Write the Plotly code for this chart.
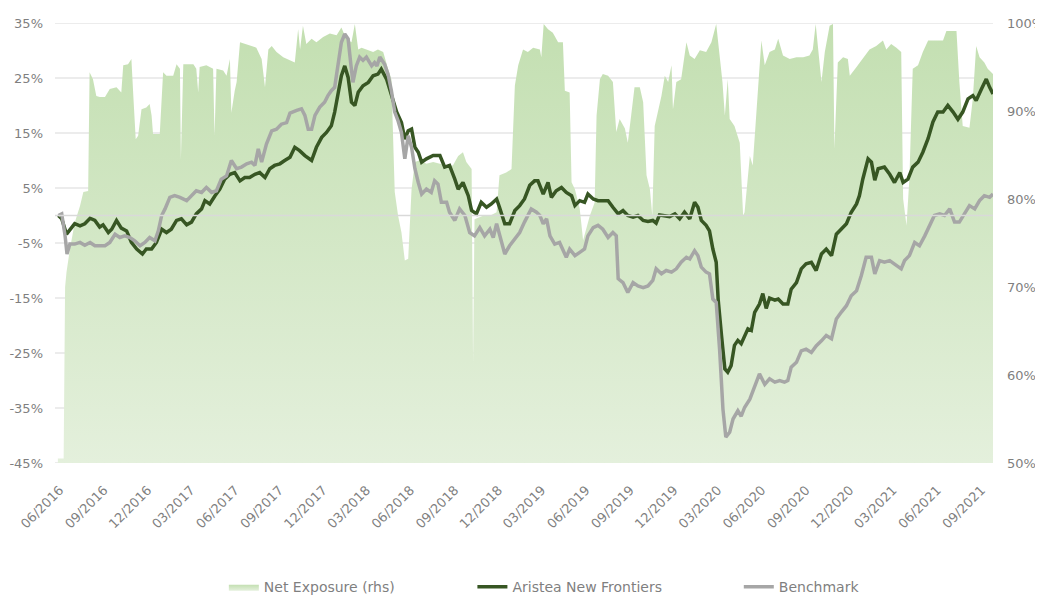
import pandas as pd
import plotly.graph_objects as go

# ---- data (day offsets from 2016-05-28, values in %) ----
start_date = "2016-05-28"

exp_day = [0, 12, 15, 18, 25, 35, 46, 53, 63, 66, 73, 80, 87, 98, 108, 122, 132, 136, 146, 153, 157, 162, 167,
           174, 184, 191, 195, 198, 212, 219, 226, 240, 247, 254, 256, 261, 282, 288, 292, 295, 309, 323, 326,
           330, 344, 351, 358, 361, 368, 372, 379, 393, 403, 413, 424, 431, 438, 445, 455, 469, 483, 493, 500,
           504, 510, 517, 528, 538, 552, 566, 580, 590, 600, 611, 618, 625, 632, 642, 656, 666, 677, 687, 694,
           701, 708, 715, 722, 729, 736, 743, 753, 767, 781, 795, 809, 822, 833, 843, 850, 861, 864, 867, 885,
           899, 913, 919, 933, 944, 951, 958, 968, 978, 989, 1003, 1006, 1011, 1020, 1030, 1041, 1051, 1055,
           1065, 1069, 1076, 1086, 1093, 1100, 1107, 1117, 1121, 1128, 1134, 1145, 1155, 1162, 1169, 1180, 1186,
           1193, 1200, 1211, 1218, 1225, 1232, 1237, 1242, 1249, 1256, 1263, 1270, 1277, 1280, 1287, 1297, 1308,
           1315, 1325, 1336, 1349, 1360, 1370, 1377, 1383, 1388, 1394, 1398, 1408, 1419, 1426, 1429, 1436, 1440,
           1446, 1457, 1464, 1471, 1481, 1492, 1499, 1509, 1523, 1537, 1551, 1564, 1571, 1577, 1582, 1589, 1596,
           1606, 1613, 1616, 1623, 1634, 1644, 1648, 1662, 1675, 1689, 1703, 1717, 1724, 1734, 1745, 1755, 1759,
           1766, 1772, 1779, 1790, 1800, 1811, 1828, 1842, 1849, 1870, 1876, 1883, 1897, 1904, 1911, 1918, 1928,
           1935, 1946]
exp_val = [50.5, 50.5, 70.0, 71.7, 74.3, 77.3, 79.2, 80.8, 80.9, 94.4, 93.6, 91.7, 91.6, 91.6, 92.5, 92.7, 92.1,
           95.2, 95.3, 95.9, 91.7, 86.8, 87.2, 90.2, 90.4, 90.8, 89.5, 87.4, 87.4, 94.4, 94.0, 94.0, 95.3, 94.8,
           84.5, 95.3, 95.3, 94.8, 92.1, 95.0, 95.2, 94.8, 87.2, 94.8, 94.6, 94.0, 95.9, 89.8, 92.3, 93.3, 97.8,
           97.6, 97.4, 97.2, 95.9, 92.7, 97.0, 97.4, 96.7, 96.1, 95.7, 95.5, 99.3, 97.0, 99.7, 97.6, 98.2, 97.8,
           98.4, 98.8, 98.6, 99.5, 98.2, 97.8, 99.9, 97.0, 97.2, 97.0, 96.7, 97.0, 96.7, 94.8, 93.6, 80.8, 78.1,
           76.2, 73.0, 73.2, 81.1, 84.2, 84.4, 84.0, 84.2, 84.0, 83.8, 83.8, 84.9, 85.3, 84.2, 83.4, 61.6, 77.7,
           78.1, 78.1, 78.5, 82.7, 83.0, 83.4, 92.9, 95.2, 97.0, 96.7, 97.2, 97.0, 96.1, 99.9, 99.3, 98.9, 97.8,
           97.8, 92.3, 92.1, 81.9, 81.1, 78.9, 75.3, 76.6, 78.1, 79.6, 89.5, 93.6, 94.2, 94.0, 93.3, 87.6, 89.1,
           88.0, 86.4, 89.5, 92.7, 92.7, 91.0, 82.7, 81.1, 78.1, 88.3, 90.0, 91.7, 94.0, 93.3, 95.2, 90.2, 93.3,
           93.6, 97.8, 96.3, 95.9, 96.9, 96.7, 97.8, 99.9, 96.3, 93.3, 89.5, 93.6, 89.1, 88.3, 86.4, 78.1, 78.5,
           83.0, 84.9, 83.8, 93.3, 98.0, 95.2, 96.7, 97.0, 98.2, 96.3, 95.9, 96.1, 96.1, 96.3, 97.0, 99.9, 97.0,
           93.3, 96.7, 99.7, 99.9, 85.7, 95.5, 96.1, 95.9, 94.0, 95.0, 95.9, 97.0, 97.4, 98.0, 97.0, 97.6, 97.2,
           96.7, 80.0, 77.0, 82.3, 94.8, 95.2, 96.7, 98.0, 98.0, 98.0, 99.1, 99.1, 93.3, 88.3, 88.1, 91.4, 97.4,
           96.1, 95.5, 94.8, 94.2]

fund_day = [1, 8, 18, 25, 35, 46, 56, 67, 77, 87, 94, 105, 112, 122, 132, 143, 153, 164, 176, 184, 195, 205, 216,
            226, 236, 247, 257, 268, 278, 288, 299, 306, 316, 327, 337, 347, 358, 368, 379, 389, 399, 410, 420,
            431, 441, 451, 462, 472, 483, 493, 503, 514, 528, 538, 549, 559, 569, 576, 583, 590, 597, 604, 611,
            618, 625, 635, 646, 656, 666, 673, 684, 694, 705, 715, 722, 729, 736, 743, 750, 757, 767, 781, 795,
            805, 815, 826, 833, 843, 854, 861, 871, 881, 892, 902, 913, 919, 930, 940, 951, 961, 971, 982, 992,
            999, 1010, 1020, 1027, 1037, 1048, 1058, 1069, 1076, 1086, 1096, 1103, 1114, 1124, 1134, 1145, 1155,
            1166, 1176, 1186, 1197, 1207, 1218, 1228, 1238, 1245, 1252, 1263, 1273, 1284, 1294, 1304, 1315, 1325,
            1332, 1339, 1349, 1356, 1363, 1370, 1374, 1381, 1388, 1394, 1401, 1408, 1415, 1422, 1429, 1436, 1443,
            1450, 1460, 1467, 1474, 1481, 1492, 1499, 1509, 1519, 1526, 1537, 1547, 1557, 1568, 1578, 1589, 1599,
            1610, 1620, 1630, 1641, 1651, 1662, 1668, 1675, 1686, 1693, 1700, 1707, 1720, 1731, 1741, 1752, 1759,
            1769, 1779, 1790, 1800, 1811, 1821, 1831, 1842, 1852, 1863, 1873, 1883, 1894, 1904, 1911, 1922, 1932,
            1939, 1946]
fund_ret = [0.0, -0.6, -3.4, -2.5, -1.5, -1.9, -1.5, -0.5, -0.9, -2.1, -1.7, -3.1, -2.5, -0.9, -2.3, -2.8, -4.9,
            -6.1, -7.0, -6.1, -6.1, -4.9, -2.5, -3.1, -2.5, -0.9, -0.6, -1.7, -1.2, 0.3, 1.2, 2.7, 2.1, 3.6, 4.8,
            6.6, 7.5, 7.8, 6.3, 6.9, 6.9, 7.5, 7.8, 6.9, 8.5, 9.1, 9.4, 10.0, 10.6, 12.4, 11.8, 10.9, 10.0, 12.4,
            14.2, 15.1, 16.3, 18.8, 22.4, 25.4, 27.2, 25.1, 20.6, 20.0, 22.4, 23.6, 24.2, 25.4, 25.7, 26.6, 24.8,
            21.8, 18.8, 16.9, 13.9, 15.4, 15.7, 12.4, 11.5, 9.7, 10.3, 10.9, 10.9, 8.8, 9.1, 6.6, 4.8, 6.0, 3.6,
            0.9, 0.3, 2.4, 1.5, 2.1, 3.0, 1.5, -1.5, -1.5, 0.9, 1.8, 3.0, 5.5, 6.3, 6.3, 3.9, 6.0, 3.3, 4.5, 5.1,
            4.2, 3.6, 1.8, 2.7, 2.4, 3.9, 3.0, 2.7, 2.7, 2.7, 1.5, 0.3, 0.9, 0.0, -0.3, 0.0, -0.9, -1.1, -0.9,
            -1.4, 0.1, 0.0, -0.2, 0.3, -0.6, 0.6, -0.6, 2.4, 1.5, -0.9, -1.8, -2.8, -6.1, -8.5, -15.2, -21.8,
            -27.9, -28.5, -27.3, -23.6, -22.7, -23.3, -21.8, -20.6, -20.9, -17.6, -16.1, -14.2, -16.9, -15.0,
            -15.4, -15.2, -16.1, -16.1, -13.4, -12.2, -9.7, -8.8, -8.5, -10.0, -7.0, -6.1, -7.3, -3.4, -2.5, -1.5,
            0.6, 2.1, 3.6, 6.6, 10.3, 9.7, 6.4, 8.5, 8.8, 7.5, 6.0, 7.8, 6.0, 6.6, 8.8, 9.7, 11.5, 14.0, 17.0,
            18.8, 18.8, 20.0, 18.8, 17.5, 18.8, 21.2, 21.8, 20.9, 23.0, 24.8, 23.3, 22.1]

bench_day = [1, 8, 15, 19, 25, 35, 46, 56, 67, 77, 87, 98, 108, 119, 129, 139, 150, 160, 171, 181, 191, 202, 209,
             216, 223, 233, 243, 254, 268, 278, 288, 299, 309, 320, 330, 340, 351, 361, 372, 382, 393, 403, 410,
             417, 424, 434, 445, 455, 465, 476, 483, 497, 507, 514, 521, 528, 535, 545, 555, 562, 569, 576, 583,
             590, 597, 604, 610, 614, 621, 628, 635, 642, 653, 659, 664, 670, 680, 687, 694, 701, 708, 715, 722,
             729, 736, 743, 750, 757, 767, 777, 784, 791, 798, 809, 815, 826, 836, 847, 857, 867, 878, 888, 899,
             906, 913, 919, 930, 940, 951, 961, 971, 978, 985, 996, 1003, 1010, 1017, 1024, 1034, 1044, 1051,
             1058, 1065, 1076, 1086, 1096, 1103, 1114, 1124, 1134, 1145, 1155, 1162, 1166, 1176, 1186, 1197, 1207,
             1218, 1228, 1238, 1245, 1256, 1266, 1277, 1287, 1297, 1308, 1315, 1325, 1332, 1339, 1349, 1356, 1363,
             1370, 1377, 1384, 1390, 1398, 1405, 1415, 1422, 1429, 1440, 1450, 1460, 1471, 1481, 1492, 1502, 1512,
             1519, 1526, 1537, 1547, 1557, 1568, 1578, 1589, 1599, 1610, 1620, 1630, 1641, 1651, 1662, 1672, 1682,
             1693, 1700, 1710, 1720, 1731, 1741, 1755, 1762, 1772, 1783, 1793, 1804, 1814, 1824, 1835, 1845, 1856,
             1866, 1876, 1887, 1897, 1908, 1918, 1928, 1939, 1946]
bench_ret = [0.0, 0.3, -3.7, -7.0, -5.2, -5.2, -4.9, -5.4, -4.9, -5.5, -5.5, -5.5, -4.9, -3.4, -4.0, -3.7, -4.0,
             -4.6, -5.5, -4.9, -4.0, -4.6, -2.8, 0.0, 1.2, 3.3, 3.6, 3.3, 2.7, 3.6, 4.5, 4.2, 5.1, 4.2, 4.5, 6.6,
             7.2, 10.0, 8.5, 8.8, 9.4, 9.7, 9.1, 12.1, 9.7, 13.0, 15.4, 15.7, 16.6, 16.9, 18.6, 19.1, 19.4, 18.2,
             15.7, 15.7, 18.2, 19.7, 20.6, 21.8, 22.7, 23.3, 27.2, 31.5, 33.0, 32.1, 27.2, 24.2, 27.2, 28.8, 28.2,
             28.8, 27.2, 27.8, 27.2, 28.8, 27.5, 25.7, 22.7, 18.8, 17.2, 15.1, 10.3, 14.5, 12.4, 8.5, 6.0, 3.9,
             4.8, 4.2, 6.3, 5.7, 2.4, 2.4, 0.6, -0.9, 1.2, 0.0, -3.1, -3.7, -2.2, -3.7, -2.5, -4.0, -1.5, -3.4,
             -7.0, -5.5, -4.3, -3.1, -1.2, 0.0, 1.2, 0.6, 0.0, -1.5, -0.6, -3.7, -5.2, -4.9, -6.1, -7.6, -6.1,
             -7.3, -6.7, -6.1, -3.7, -2.2, -1.8, -2.5, -4.0, -3.1, -3.7, -11.5, -12.2, -14.0, -12.2, -12.8, -13.1,
             -12.8, -11.8, -9.7, -10.6, -10.0, -10.3, -9.7, -8.5, -7.6, -7.9, -6.4, -7.3, -9.4, -10.3, -10.6,
             -15.2, -15.8, -24.3, -35.2, -40.3, -39.4, -37.0, -35.5, -36.5, -34.9, -33.4, -31.3, -28.8, -30.7,
             -29.7, -30.3, -30.0, -30.3, -30.0, -27.6, -26.7, -24.6, -24.3, -24.9, -23.7, -22.8, -21.8, -22.4,
             -18.8, -17.6, -16.4, -14.6, -13.7, -10.9, -7.6, -7.6, -10.6, -8.2, -8.5, -8.2, -8.8, -9.7, -8.2,
             -7.3, -4.9, -5.5, -3.7, -1.8, 0.0, 0.3, 0.0, 1.2, -1.2, -1.2, 0.3, 1.8, 1.2, 2.7, 3.6, 3.3, 3.9]

left_ticks = [-45, -35, -25, -15, -5, 5, 15, 25, 35]
right_ticks = [50, 60, 70, 80, 90, 100]
series_names = ["Net Exposure (rhs)", "Aristea New Frontiers", "Benchmark"]

base = pd.Timestamp(start_date)
exp_x = base + pd.to_timedelta(exp_day, unit="D")
fund_x = base + pd.to_timedelta(fund_day, unit="D")
bench_x = base + pd.to_timedelta(bench_day, unit="D")

FONT = "DejaVu Sans"
GRAY = "#7f7f7f"
GRID = "#e6e6e6"

fig = go.Figure()
fig.add_trace(go.Scatter(
    x=exp_x, y=exp_val, name=series_names[0], mode="lines",
    line=dict(width=0, color="#c5e0b4"), fill="tozeroy",
    fillgradient=dict(type="vertical", colorscale=[[0, "#e4f0dc"], [1, "#c3dfb1"]], start=50, stop=100),
    yaxis="y", legend="legend", hoverinfo="skip"))
fig.add_trace(go.Scatter(
    x=fund_x, y=fund_ret, name=series_names[1], mode="lines",
    line=dict(width=3.5, color="#375623"), yaxis="y2", legend="legend2"))
fig.add_trace(go.Scatter(
    x=bench_x, y=bench_ret, name=series_names[2], mode="lines",
    line=dict(width=3.5, color="#a6a6a6"), yaxis="y2", legend="legend3"))

legend_common = dict(orientation="h", yanchor="middle", y=-0.282, xanchor="left",
                     font=dict(family=FONT, size=14, color=GRAY), bgcolor="rgba(0,0,0,0)",
                     itemwidth=30)

# horizontal gridlines of the left (returns) axis, kept beneath the area fill
grid_shapes = [dict(type="line", xref="paper", x0=0, x1=1, yref="y2", y0=v, y1=v,
                    line=dict(color=GRID, width=1.5), layer="between") for v in left_ticks]
zero_shape = [dict(type="line", xref="paper", x0=0, x1=1, yref="y2", y0=0, y1=0,
                   line=dict(color="#d9d9d9", width=1.5), layer="above")]

# the page body adds an 8px offset, so the figure is 8px smaller than the window
fig.update_layout(
    width=1035, height=587,
    margin=dict(l=47, r=50, t=15, b=132, autoexpand=False),
    paper_bgcolor="white", plot_bgcolor="white",
    font=dict(family=FONT, size=13, color=GRAY),
    xaxis=dict(type="date", range=["2016-05-22", "2021-09-25"], tick0="2016-06-01", dtick="M3",
               tickformat="%m/%Y", tickangle=-45, showgrid=False, zeroline=False, showline=False,
               ticks="", automargin=False, ticklabelstandoff=16,
               tickfont=dict(family=FONT, size=13, color=GRAY)),
    yaxis=dict(range=[50, 100], tickvals=right_ticks, ticktext=[f"{v}%" for v in right_ticks],
               side="right", showgrid=False, zeroline=False, showline=False, ticks="",
               automargin=False, ticklabelstandoff=13,
               tickfont=dict(family=FONT, size=13, color=GRAY)),
    yaxis2=dict(range=[-45, 35], tickvals=left_ticks, ticktext=[f"{v}%" for v in left_ticks],
                side="left", overlaying="y", showgrid=False, zeroline=False, showline=False,
                ticks="", automargin=False, ticklabelstandoff=11,
                tickfont=dict(family=FONT, size=13, color=GRAY)),
    legend=dict(legend_common, x=0.180),
    legend2=dict(legend_common, x=0.445),
    legend3=dict(legend_common, x=0.729),
    shapes=grid_shapes + zero_shape,
    showlegend=True,
)

fig.write_html("out.html")
